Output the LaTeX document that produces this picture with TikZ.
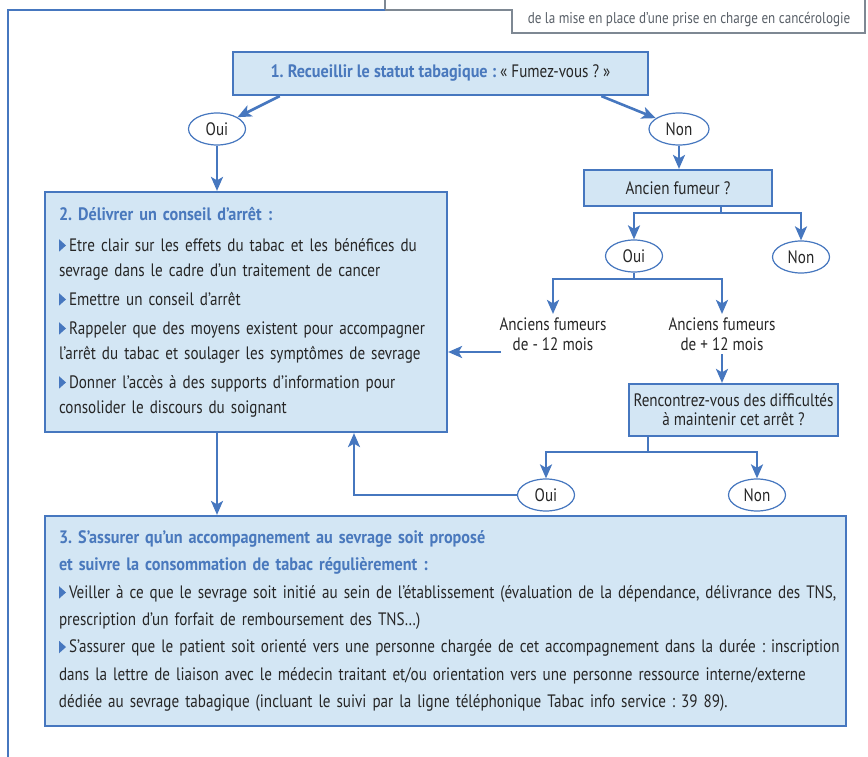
\documentclass[tikz,border=0pt]{standalone}
\usepackage{fontspec}
\setmainfont{PT Sans}[UprightFeatures={FakeStretch=0.84},BoldFeatures={FakeStretch=0.90}]
\usetikzlibrary{arrows.meta,shapes.geometric,positioning,calc}
\frenchspacing

\definecolor{bleu}{HTML}{4677BF}
\definecolor{bleuclair}{HTML}{D3E6F4}
\definecolor{titre}{HTML}{4A79BD}
\definecolor{texte}{HTML}{262626}
\definecolor{gris}{HTML}{7E8893}

\newcommand{\puce}{\tikz[baseline=0pt]\fill[bleu] (0pt,-0.5pt) -- (0pt,12pt) -- (7pt,5.75pt) -- cycle;\,}

\begin{document}
\begin{tikzpicture}[x=1pt,y=-1pt,
  boite/.style={draw=bleu,fill=bleuclair,line width=2.2pt,text=texte},
  choix/.style={ellipse,draw=bleu,fill=white,line width=1.2pt,minimum width=57,minimum height=32,inner sep=0pt,text=texte},
  fleche/.style={draw=bleu,line width=2.6pt,-{Stealth[length=14pt,width=12pt,inset=3.5pt]}},
  trait/.style={draw=bleu,line width=2.6pt},
  font=\fontsize{18}{21}\selectfont]

    \useasboundingbox (0,0) rectangle (868,757);

    % cadre
    \draw[gris,line width=1.2pt] (385,-2) -- (385,10) -- (512,10) -- (512,33) -- (865,33) -- (865,-2);
    \draw[bleu,line width=2.5pt] (385,10) -- (8,10) -- (8,760);
    \node[text=gris!70!black,font=\fontsize{15.6}{18}\selectfont] (entete) at (689,20) {de la mise en place d’une prise en charge en cancérologie};

    \node[boite,minimum width=415,minimum height=43] (statut) at (440.5,73.5) {\textcolor{titre}{\bfseries 1. Recueillir le statut tabagique :} « Fumez-vous ? »};
    \node[choix] (oui1) at (217,129) {Oui};
    \node[choix,minimum width=60] (non1) at (679,129) {Non};

    \node[boite,minimum width=402,minimum height=240,text width=374,inner xsep=14,align=left,font=\fontsize{18}{25}\selectfont] (conseil) at (246,312) {\textcolor{titre}{\bfseries 2. Délivrer un conseil d’arrêt :}\\[6pt]
      \puce Etre clair sur les effets du tabac et les bénéfices du\\ sevrage dans le cadre d’un traitement de cancer\\[4pt]
      \puce Emettre un conseil d’arrêt\\[4pt]
      \puce Rappeler que des moyens existent pour accompagner\\ l’arrêt du tabac et soulager les symptômes de sevrage\\[4pt]
      \puce Donner l’accès à des supports d’information pour\\ consolider le discours du soignant};

    \node[boite,minimum width=188,minimum height=36] (ancien) at (678,188) {Ancien fumeur ?};
    \node[choix] (oui2) at (634,256) {Oui};
    \node[choix] (non2) at (801,257) {Non};

    \node[align=center,text=texte,font=\fontsize{18}{20}\selectfont] (moins) at (553,334) {Anciens fumeurs\\de - 12 mois};
    \node[align=center,text=texte,font=\fontsize{18}{20}\selectfont] (plus) at (722,334) {Anciens fumeurs\\de + 12 mois};

    \node[boite,minimum width=209,minimum height=52,align=center,font=\fontsize{18}{19}\selectfont] (rencontre) at (733.5,410) {Rencontrez-vous des difficultés\\à maintenir cet arrêt ?};
    \node[choix] (oui3) at (546,495) {Oui};
    \node[choix] (non3) at (757,495) {Non};

    \node[boite,minimum width=801,minimum height=210,text width=773,inner xsep=14,align=left,font=\fontsize{18}{27.3}\selectfont] (suivi) at (445.5,621) {\textcolor{titre}{\bfseries 3. S’assurer qu’un accompagnement au sevrage soit proposé\\ et suivre la consommation de tabac régulièrement :}\\
      \mbox{\puce Veiller à ce que le sevrage soit initié au sein de l’établissement (évaluation de la dépendance, délivrance des TNS,}\\ prescription d’un forfait de remboursement des TNS…)\\
      \mbox{\puce S’assurer que le patient soit orienté vers une personne chargée de cet accompagnement dans la durée : inscription}\\ \mbox{dans la lettre de liaison avec le médecin traitant et/ou orientation vers une personne ressource interne/externe}\\ dédiée au sevrage tabagique (incluant le suivi par la ligne téléphonique Tabac info service : 39 89).};

    % liaisons
    \draw[fleche] (statut.188.5) -- (oui1.30);
    \draw[fleche] (statut.-8.4) -- (non1.155);
    \draw[fleche] (oui1.south) -- (conseil.north -| oui1);
    \draw[fleche] (non1.south) -- (ancien.north -| non1);

    \coordinate (c1) at (721,213);
    \draw[trait] (ancien.south -| c1) -- (c1);
    \draw[fleche] (c1) -| (oui2.north);
    \draw[fleche] (c1) -| (non2.north);

    \coordinate (c2) at (634,279);
    \draw[trait] (oui2.south) -- (c2);
    \draw[fleche] (c2) -| (moins.north);
    \draw[fleche] (c2) -| (plus.north);

    \coordinate (c3) at (501,352);
    \draw[fleche] (c3) -- (c3 -| conseil.east);
    \draw[fleche] (plus.south) -- (plus.south |- rencontre.north);

    \coordinate (c4) at (648,452);
    \draw[trait] (rencontre.south -| c4) -- (c4);
    \draw[fleche] (c4) -| (oui3.north);
    \draw[fleche] (c4) -| (non3.north);

    \coordinate (c5) at (354,432);
    \draw[fleche] (oui3.west) -| (c5 |- conseil.south);
    \draw[fleche] (conseil.south -| oui1) -- (suivi.north -| oui1);
\end{tikzpicture}
\end{document}
